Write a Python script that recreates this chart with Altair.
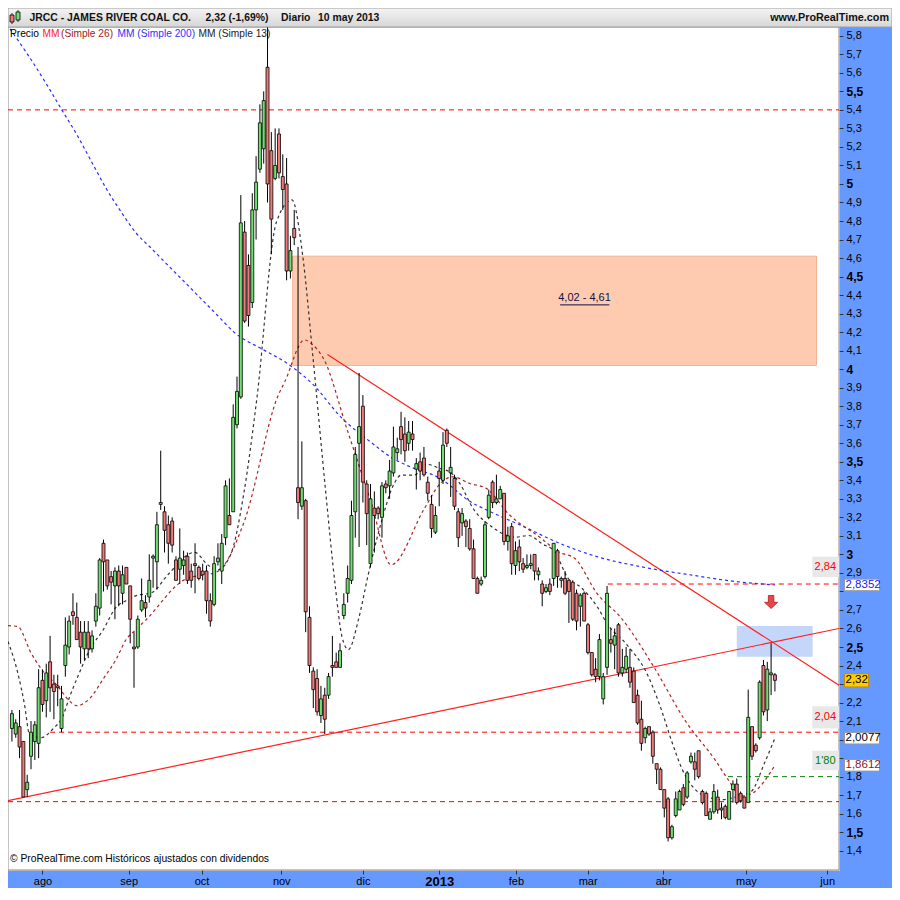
import altair as alt
import pandas as pd

# ---------------- data ----------------
opens = [2.06,2.03,2.07,1.99,1.73,1.91,1.99,1.98,2.32,2.21,2.42,2.30,2.29,2.06,2.40,2.50,2.69,2.66,2.58,2.49,
         2.58,2.49,2.64,2.71,3.06,2.97,2.88,2.83,2.91,2.79,2.93,2.83,2.50,2.50,2.70,2.74,2.77,2.98,2.96,3.27,
         3.23,3.16,3.18,2.97,2.92,2.94,2.99,2.91,2.95,2.93,2.91,2.91,2.75,2.73,2.96,2.91,3.09,3.21,3.23,3.70,
         3.85,4.74,4.56,4.36,4.86,5.08,5.19,5.63,5.18,5.03,5.27,5.04,5.00,4.53,4.76,3.36,3.26,3.29,2.66,2.37,
         2.33,2.13,2.24,2.24,2.40,2.42,2.39,2.67,2.79,2.86,3.23,3.60,3.80,3.38,2.95,3.25,3.25,3.20,3.38,3.37,
         3.44,3.55,3.69,3.65,3.60,3.65,3.46,3.50,3.52,3.39,3.27,3.12,3.45,3.40,3.67,3.44,3.41,3.23,3.17,3.18,
         3.14,3.03,2.87,2.84,2.88,3.20,3.39,3.28,3.30,3.33,3.07,3.15,2.94,3.04,2.95,2.93,2.94,3.00,2.89,2.84,
         2.80,2.84,2.87,3.02,2.86,2.87,2.86,2.85,2.79,2.72,2.79,2.62,2.47,2.38,2.34,2.22,2.39,2.54,2.51,2.62,
         2.36,2.38,2.39,2.37,2.24,2.11,2.01,2.07,2.04,1.87,1.84,1.73,1.68,1.47,1.59,1.62,1.74,1.69,1.88,1.88,
         1.94,1.72,1.71,1.57,1.61,1.69,1.62,1.64,1.57,1.73,1.76,1.71,1.69,1.66,2.07,1.97,2.01,2.40,2.16,2.35,
         2.35]
highs = [2.16,2.11,2.16,1.99,1.81,2.10,2.10,2.38,2.38,2.41,2.56,2.35,2.35,2.29,2.66,2.67,2.79,2.74,2.64,2.64,
         2.64,2.59,2.79,2.98,3.08,2.97,2.91,2.93,2.94,2.94,2.93,2.83,2.58,2.67,2.87,2.78,3.00,3.00,3.23,3.56,
         3.26,3.21,3.20,2.99,3.14,3.02,3.01,2.95,3.06,2.94,2.95,2.94,2.79,2.99,3.06,3.11,3.40,3.41,3.81,3.96,
         4.94,4.80,4.62,4.95,5.15,5.43,5.50,5.85,5.28,5.30,5.30,5.16,5.14,4.72,4.86,4.66,3.61,3.30,2.72,2.39,
         2.38,2.29,2.28,2.36,2.56,2.47,2.52,2.79,2.94,3.29,3.58,3.98,3.86,3.40,3.38,3.34,3.26,3.39,3.40,3.51,
         3.69,3.63,3.77,3.74,3.72,3.72,3.52,3.55,3.58,3.42,3.32,3.26,3.50,3.66,3.68,3.58,3.43,3.25,3.25,3.19,
         3.19,3.08,2.88,2.88,3.18,3.35,3.40,3.43,3.37,3.33,3.15,3.17,3.07,3.08,2.98,3.00,3.00,3.00,2.93,2.86,
         2.84,2.87,3.06,3.03,2.88,2.91,2.86,2.86,2.81,2.79,2.80,2.63,2.47,2.44,2.57,2.36,2.83,2.60,2.60,2.63,
         2.49,2.50,2.49,2.39,2.27,2.21,2.07,2.07,2.05,1.87,1.85,1.73,1.69,1.54,1.72,1.73,1.76,1.83,1.93,1.93,
         1.94,1.73,1.72,1.63,1.76,1.73,1.66,1.65,1.72,1.78,1.79,1.72,1.69,2.27,2.07,1.98,2.32,2.43,2.42,2.52,
         2.36]
lows = [1.99,2.01,1.90,1.69,1.69,1.84,1.89,1.90,2.15,2.12,2.15,2.11,2.18,2.04,2.34,2.46,2.62,2.54,2.41,2.43,
        2.44,2.47,2.61,2.67,2.80,2.81,2.73,2.65,2.72,2.73,2.84,2.52,2.28,2.49,2.69,2.66,2.74,2.82,2.81,3.24,
        3.01,2.95,3.01,2.86,2.84,2.89,2.84,2.82,2.79,2.86,2.86,2.68,2.61,2.72,2.94,2.84,3.05,3.16,3.23,3.68,
        3.84,4.25,4.23,4.33,4.70,5.06,5.11,4.90,4.62,5.02,5.03,4.86,4.48,4.49,4.67,3.19,3.24,2.58,2.36,2.17,
        2.13,2.09,2.03,2.22,2.34,2.39,2.39,2.65,2.74,2.84,3.09,3.04,3.28,3.05,2.93,3.01,3.19,3.09,3.33,3.30,
        3.42,3.51,3.54,3.50,3.56,3.56,3.35,3.40,3.42,3.29,3.09,3.11,3.26,3.38,3.58,3.31,3.24,3.04,3.10,3.04,
        3.02,2.87,2.79,2.83,2.87,3.19,3.25,3.27,3.30,3.05,3.02,2.89,2.89,2.91,2.90,2.92,2.92,2.86,2.86,2.72,
        2.79,2.78,2.83,2.82,2.82,2.78,2.63,2.64,2.59,2.61,2.64,2.46,2.34,2.31,2.32,2.19,2.35,2.47,2.38,2.34,
        2.34,2.36,2.28,2.20,2.08,1.94,1.98,2.02,1.87,1.76,1.73,1.58,1.45,1.46,1.58,1.62,1.64,1.68,1.87,1.78,
        1.79,1.65,1.59,1.57,1.60,1.60,1.57,1.57,1.57,1.66,1.65,1.66,1.63,1.66,1.89,1.93,2.00,2.13,2.10,2.24,
        2.26]
closes = [2.14,2.09,1.96,1.69,1.77,2.04,2.08,2.28,2.19,2.36,2.28,2.26,2.28,2.22,2.51,2.64,2.67,2.54,2.50,2.58,
          2.49,2.56,2.72,2.97,2.96,2.83,2.85,2.91,2.83,2.89,2.84,2.65,2.49,2.65,2.75,2.71,2.86,2.99,3.16,3.28,
          3.13,3.06,3.05,2.86,2.98,2.97,2.86,2.86,2.94,2.87,2.89,2.75,2.64,2.95,2.98,3.06,3.37,3.16,3.74,3.88,
          4.79,4.26,4.29,4.86,5.01,5.33,5.45,5.00,4.81,5.10,5.06,4.97,4.53,4.64,4.71,3.28,3.36,2.69,2.40,2.27,
          2.15,2.22,2.11,2.34,2.39,2.39,2.48,2.73,2.87,3.21,3.54,3.69,3.39,3.22,3.30,3.21,3.22,3.37,3.36,3.45,
          3.58,3.57,3.62,3.56,3.66,3.62,3.49,3.45,3.43,3.33,3.14,3.21,3.41,3.59,3.60,3.47,3.26,3.09,3.22,3.15,
          3.03,2.87,2.79,2.86,3.16,3.32,3.28,3.30,3.35,3.07,3.10,2.95,3.02,2.96,2.92,2.94,2.95,2.91,2.91,2.79,
          2.82,2.80,3.06,2.88,2.87,2.79,2.80,2.65,2.64,2.78,2.64,2.47,2.35,2.34,2.54,2.34,2.79,2.52,2.56,2.36,
          2.39,2.45,2.31,2.20,2.09,1.98,2.06,2.03,1.91,1.84,1.73,1.63,1.47,1.53,1.68,1.72,1.65,1.82,1.91,1.84,
          1.80,1.66,1.59,1.61,1.72,1.62,1.63,1.58,1.72,1.76,1.66,1.67,1.63,2.12,1.91,1.94,2.31,2.15,2.38,2.36,
          2.32]

# moving averages (trading-day index, price)
ma13_i = [-1.03,1.5,3.3,4.6,7.5,11.0,13.1,15.3,17.4,20.4,23.9,27.3,29.9,32.4,36.7,40.9,47.9,51.3,53.9,57.3,
          60.8,64.2,69.3,73.4,76.2,78.8,82.2,84.8,86.5,88.2,90.8,93.4,96.8,100.2,102.0,105.4,108.8,112.3,114.8,
          117.4,120.8,126.0,132.0,135.5,138.9,142.3,145.7,149.2,153.5,156.0,161.2,166.3,169.8,173.2,175.8,178.4,
          181.8,186.1,190.4,193.8,197.2,200.0]
ma13_v = [2.53,2.363,2.189,2.03,2.01,2.063,2.116,2.241,2.347,2.486,2.592,2.715,2.75,2.776,2.794,2.891,3.011,2.944,
          2.917,2.997,3.331,3.841,4.792,4.914,4.616,4.088,3.348,2.821,2.557,2.486,2.645,2.891,3.172,3.383,3.428,
          3.428,3.486,3.463,3.445,3.383,3.251,3.146,3.093,3.102,3.058,3.014,2.873,2.821,2.715,2.627,2.512,2.363,
          2.187,1.976,1.835,1.747,1.694,1.676,1.694,1.72,1.87,2.0077]
ma26_i = [-1.03,1.5,5.0,8.4,11.8,15.3,17.0,20.4,23.9,27.3,29.9,32.4,35.0,45.3,53.9,60.8,69.8,71.5,76.7,78.8,81.8,
          87.8,94.2,99.4,108.0,112.3,115.6,120.0,124.3,130.3,138.8,143.2,147.5,153.5,159.5,168.1,176.6,184.4,
          187.8,191.2,194.2,200.0]
ma26_v = [2.615,2.611,2.468,2.363,2.294,2.204,2.183,2.222,2.327,2.433,2.539,2.592,2.644,2.864,2.908,3.172,3.859,
          3.931,4.158,4.132,4.052,3.678,3.278,2.944,3.243,3.383,3.419,3.383,3.357,3.216,3.086,3.014,2.979,2.785,
          2.662,2.398,2.099,1.888,1.782,1.694,1.712,1.8612]
ma200_i = [-0.5,4.1,9.3,13.1,17.0,20.9,24.7,28.6,32.4,36.7,41.0,45.3,49.6,53.9,58.2,65.9,71.9,78.8,86.5,94.2,
           99.4,104.5,112.3,120.0,126.0,134.6,143.2,153.5,166.3,179.2,189.5,200.0]
ma200_v = [5.837,5.70,5.531,5.399,5.267,5.119,4.976,4.850,4.739,4.649,4.559,4.470,4.380,4.290,4.200,4.105,4.035,
           3.92,3.736,3.604,3.524,3.472,3.41,3.287,3.225,3.146,3.063,2.987,2.928,2.885,2.854,2.8352]

# horizontal levels: price, start index
red_level_p = [5.40, 1.665, 2.04, 2.84]
red_level_start = [-1.03, -1.03, 10.0, 156.2]
green_level_p = [1.80]
green_level_start = [187.7]

# trend lines (index, price)
support_i = [-1.03, 216.8]
support_p = [1.671, 2.60]
resist_i = [82.7, 216.8]
resist_p = [4.079, 2.294]

# zones
zone_i = [73.6, 210.9]
zone_p = [4.02, 4.61]
zone2_i = [190.0, 209.9]
zone2_p = [2.447, 2.613]

month_pos = [8, 30.6, 49.7, 70.6, 92, 112, 132.1, 150.9, 170.7, 192.4, 213.7]
month_lab = ["ago", "sep", "oct", "nov", "dic", "2013", "feb", "mar", "abr", "may", "jun"]
ytick_vals = [round(1.4 + 0.1 * k, 1) for k in range(45)]
hidden_ticks = [1.9, 2.0, 2.3, 2.8]   # covered by the value boxes

# ---------------- chart ----------------
TOTW, TOTH = 884, 880
PT, PB, PR = 19, 18, 53
W, H = TOTW - PR, TOTH - PT - PB
XDOM = [-1.03, 216.8]
YDOM = [1.296, 5.8475]
FONT = "Liberation Sans"
GREEN = "#6fe06f"
RED = "#f07a7a"
BLUE_PANEL = "#6699ff"

xs = alt.Scale(domain=XDOM, nice=False, zero=False, padding=0)
ys = alt.Scale(domain=YDOM, nice=False, zero=False, padding=0)

expr = "''"
for p, l in reversed(list(zip(month_pos, month_lab))):
    expr = f"(abs(datum.value - {p}) < 0.01 ? '{l}' : {expr})"

hide_test = " || ".join(f"abs(datum.value - {v}) < 0.001" for v in hidden_ticks)
y_expr = f"({hide_test}) ? '' : replace(format(datum.value, '.1~f'), '.', ',')"

x_axis = alt.Axis(values=month_pos, labelExpr=expr, grid=False, domain=False, tickSize=4,
                  tickColor="#333333", labelPadding=1, labelColor="black", title=None,
                  labelFont="Liberation Sans Narrow, Liberation Sans", labelAngle=0,
                  labelFontSize={"condition": {"test": "abs(datum.value - 112) < 0.01", "value": 13}, "value": 11},
                  labelFontWeight={"condition": {"test": "abs(datum.value - 112) < 0.01", "value": "bold"}, "value": "normal"})
y_axis = alt.Axis(orient="right", values=ytick_vals, labelExpr=y_expr,
                  grid=False, domain=False, tickSize=4, tickColor="#333333", labelPadding=3,
                  labelColor="black", title=None, labelFont=FONT,
                  labelFontSize={"condition": {"test": "abs(datum.value*2 - round(datum.value*2)) < 0.001", "value": 12}, "value": 11},
                  labelFontWeight={"condition": {"test": "abs(datum.value*2 - round(datum.value*2)) < 0.001", "value": "bold"}, "value": "normal"})


def X(f):
    return alt.X(f, type="quantitative", scale=xs, axis=x_axis)


def Y(f):
    return alt.Y(f, type="quantitative", scale=ys, axis=y_axis)


df = pd.DataFrame({"i": list(range(len(closes))), "o": opens, "h": highs, "l": lows, "c": closes})
df["b0"] = df[["o", "c"]].min(axis=1)
df["b1"] = df[["o", "c"]].max(axis=1)
df["col"] = [GREEN if c >= o else RED for o, c in zip(opens, closes)]

one = pd.DataFrame({"a": [0]})
plot_bg = alt.Chart(one).mark_rect(fill="white", stroke="#8a8a8a", strokeWidth=1).encode(
    x=alt.value(0), x2=alt.value(W), y=alt.value(0), y2=alt.value(H))

zone = alt.Chart(pd.DataFrame({"i0": [zone_i[0]], "i1": [zone_i[1]], "p0": [zone_p[0]], "p1": [zone_p[1]]})).mark_rect(
    fill="#ffcbb0", stroke="#f2b394", strokeWidth=1).encode(x=X("i0"), x2="i1", y=Y("p0"), y2="p1")
zone2 = alt.Chart(pd.DataFrame({"i0": [zone2_i[0]], "i1": [zone2_i[1]], "p0": [zone2_p[0]], "p1": [zone2_p[1]]})).mark_rect(
    fill="#c5d6fb").encode(x=X("i0"), x2="i1", y=Y("p0"), y2="p1")

red_lev = pd.DataFrame({"p": red_level_p, "i0": red_level_start, "i1": [XDOM[1]] * len(red_level_p)})
red_levels = alt.Chart(red_lev).mark_rule(strokeDash=[5, 4], strokeWidth=1, color="#ff0000").encode(
    x=X("i0"), x2="i1", y=Y("p"))
green_lev = pd.DataFrame({"p": green_level_p, "i0": green_level_start, "i1": [XDOM[1]] * len(green_level_p)})
green_levels = alt.Chart(green_lev).mark_rule(strokeDash=[5, 4], strokeWidth=1, color="#008000").encode(
    x=X("i0"), x2="i1", y=Y("p"))

tl = pd.DataFrame({"i": support_i + resist_i, "p": support_p + resist_p, "g": ["s", "s", "r", "r"]})
trend = alt.Chart(tl).mark_line(color="#ff2020", strokeWidth=1.2, clip=True).encode(
    x=X("i"), y=Y("p"), detail="g:N")

ma_df = pd.concat([
    pd.DataFrame({"i": ma200_i, "p": ma200_v, "s": "ma200"}),
    pd.DataFrame({"i": ma26_i, "p": ma26_v, "s": "ma26"}),
    pd.DataFrame({"i": ma13_i, "p": ma13_v, "s": "ma13"}),
])
mas = alt.Chart(ma_df).mark_line(strokeDash=[3, 3], strokeWidth=1.2, interpolate="monotone", clip=True).encode(
    x=X("i"), y=Y("p"), detail="s:N",
    color=alt.Color("s:N", scale=alt.Scale(domain=["ma200", "ma26", "ma13"], range=["#2c2cff", "#b22222", "#333333"]), legend=None))

wicks = alt.Chart(df).mark_rule(color="black", strokeWidth=1).encode(x=X("i"), y=Y("l"), y2="h")
bodies = alt.Chart(df).mark_bar(size=3, stroke="black", strokeWidth=0.8).encode(
    x=X("i"), y=Y("b0"), y2="b1", fill=alt.Color("col:N", scale=None))

# zone text + underline
ztxt = alt.Chart(pd.DataFrame({"i": [150.1], "p": [4.385], "t": ["4,02 - 4,61"]})).mark_text(
    font=FONT, fontSize=11, color="#101040").encode(x=X("i"), y=Y("p"), text="t:N")
zline = alt.Chart(pd.DataFrame({"i0": [143.7], "i1": [156.6], "p": [4.385]})).mark_rule(
    color="#101040", strokeWidth=1, yOffset=7).encode(x=X("i0"), x2="i1", y=Y("p"))

# arrow
arrow = alt.Chart(pd.DataFrame({"i": [199.0], "p": [2.743]})).mark_point(
    shape="M-0.42,-1 L0.42,-1 L0.42,0.05 L1,0.05 L0,1 L-1,0.05 L-0.42,0.05 Z",
    size=170, filled=True, fill="#e84646", stroke="#b02020", strokeWidth=0.8, opacity=1).encode(x=X("i"), y=Y("p"))

# level labels inside the plot
lab = pd.DataFrame({"i0": [209.8, 209.8, 209.8], "i1": [XDOM[1]] * 3,
                    "p0": [2.877, 2.06, 1.835], "p1": [2.988, 2.18, 1.94],
                    "pm": [2.93, 2.12, 1.887], "t": ["2,84", "2,04", "1'80"],
                    "col": ["#ff0000", "#ff0000", "#008000"]})
labbox = alt.Chart(lab).mark_rect(fill="#e8e8e8").encode(x=X("i0"), x2="i1", y=Y("p0"), y2="p1")
labtxt = alt.Chart(lab).mark_text(font=FONT, fontSize=11, align="center").encode(
    x=X("i0"), y=Y("pm"), text="t:N", color=alt.Color("col:N", scale=None), xOffset=alt.value(13))

# value boxes on the price axis
vb = pd.DataFrame({"p": [2.8352, 2.32, 2.0077, 1.8612], "t": ["2,8352", "2,32", "2,0077", "1,8612"],
                   "fill": ["white", "#ffcc00", "white", "white"],
                   "tc": ["#2020ff", "black", "black", "#8b1a1a"], "w": [35, 24, 35, 35]})
vbox_wide = alt.Chart(vb[vb.w == 35]).mark_point(
    shape="M-1,-0.33 L1,-0.33 L1,0.33 L-1,0.33 Z", size=1225, filled=True, stroke="#999999", strokeWidth=1,
    opacity=1).encode(x=alt.value(W + 23), y=Y("p"), fill=alt.Color("fill:N", scale=None))
vbox_narrow = alt.Chart(vb[vb.w == 24]).mark_point(
    shape="M-1,-0.55 L1,-0.55 L1,0.55 L-1,0.55 Z", size=576, filled=True, stroke="#c09000", strokeWidth=1,
    opacity=1).encode(x=alt.value(W + 17.5), y=Y("p"), fill=alt.Color("fill:N", scale=None))
vtxt = alt.Chart(vb).mark_text(font=FONT, fontSize=11.5, align="left").encode(
    x=alt.value(W + 6.5), y=Y("p"), text="t:N", color=alt.Color("tc:N", scale=None))

# header bar
hdr = alt.Chart(one).mark_rect(
    fill=alt.Gradient(gradient="linear", stops=[alt.GradientStop(color="#f4f4f4", offset=0),
                                                alt.GradientStop(color="#d6d6d6", offset=1)],
                      x1=0, x2=0, y1=0, y2=1),
    stroke="#a0a0a0", strokeWidth=1).encode(x=alt.value(0), x2=alt.value(TOTW), y=alt.value(-PT), y2=alt.value(0))
icon = alt.Chart(pd.DataFrame({"x0": [2, 8], "x1": [6, 12], "y0": [-12, -15], "y1": [-5, -7],
                               "c": [RED, GREEN]})).mark_rect(stroke="black", strokeWidth=0.8).encode(
    x=alt.X("x0:Q", scale=None), x2="x1", y=alt.Y("y0:Q", scale=None), y2="y1", fill=alt.Color("c:N", scale=None))
icon_w = alt.Chart(pd.DataFrame({"x": [4, 10], "y0": [-14, -17], "y1": [-3, -5]})).mark_rule(
    color="black", strokeWidth=0.8).encode(x=alt.X("x:Q", scale=None), y=alt.Y("y0:Q", scale=None), y2="y1")

hdr_text = pd.DataFrame({"x": [21.5, 197.5, 273, 310],
                         "t": ["JRCC - JAMES RIVER COAL CO.", "2,32 (-1,69%)", "Diario", "10 may 2013"]})
htxt = alt.Chart(hdr_text).mark_text(font=FONT, fontSize=10.4, fontWeight="bold", align="left", baseline="middle",
                                     color="#111111").encode(
    x=alt.X("x:Q", scale=None), y=alt.value(-9), text="t:N")
hsite = alt.Chart(pd.DataFrame({"t": ["www.ProRealTime.com"]})).mark_text(
    font=FONT, fontSize=10.8, fontWeight="bold", align="right", baseline="middle", color="#111111").encode(
    x=alt.value(TOTW - 3), y=alt.value(-9), text="t:N")

leg = pd.DataFrame({"x": [2, 34.5, 53, 109.5, 190.5],
                    "t": ["Precio", "MM", "(Simple 26)", "MM (Simple 200)", "MM (Simple 13)"],
                    "c": ["black", "#ff2020", "#9b1c1c", "#3030ff", "#222222"]})
legtxt = alt.Chart(leg).mark_text(font=FONT, fontSize=10.2, align="left", baseline="middle").encode(
    x=alt.X("x:Q", scale=None), y=alt.value(7), text="t:N", color=alt.Color("c:N", scale=None))
copy_txt = alt.Chart(pd.DataFrame({"t": ["© ProRealTime.com Históricos ajustados con dividendos"]})).mark_text(
    font=FONT, fontSize=10.3, align="left", baseline="middle", color="black").encode(
    x=alt.value(2), y=alt.value(H - 11), text="t:N")

chart = alt.layer(
    plot_bg, zone, zone2, red_levels, green_levels, trend, mas, wicks, bodies, ztxt, zline, arrow, labbox, labtxt,
    vbox_wide, vbox_narrow, vtxt, hdr, icon_w, icon, htxt, hsite, legtxt, copy_txt
).resolve_scale(color="independent", fill="independent").properties(
    width=W, height=H,
    padding={"left": 0, "top": PT, "right": PR, "bottom": PB},
    autosize=alt.AutoSizeParams(type="none"),
    background=BLUE_PANEL,
).configure_view(fill="white", stroke="#8a8a8a", strokeWidth=1).configure(font=FONT)

chart.save("out.html", embed_options={"renderer": "svg", "actions": False})
